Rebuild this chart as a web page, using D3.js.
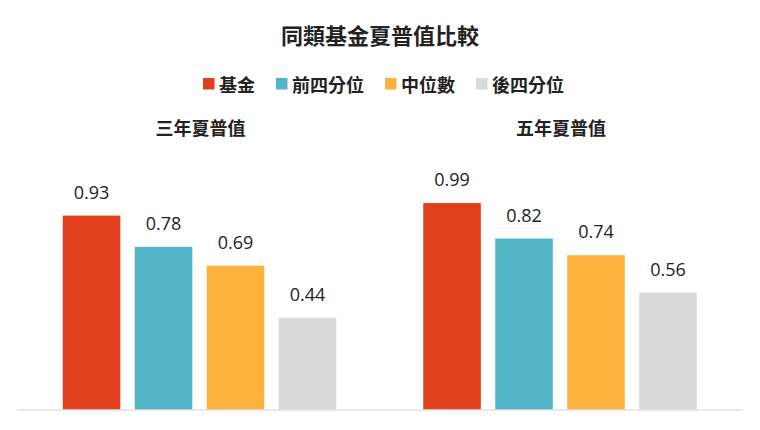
<!DOCTYPE html>
<html><head><meta charset="utf-8">
<script src="https://cdn.jsdelivr.net/npm/d3@7/dist/d3.min.js"></script>
<style>
html,body{margin:0;padding:0;background:#fff;}
svg{display:block;}
</style></head>
<body>
<svg id="chart" width="760" height="430"></svg>
<script>
const title = "同類基金夏普值比較";
const groups = ["三年夏普值", "五年夏普值"];
const series = ["基金", "前四分位", "中位數", "後四分位"];
const colors = ["#E0401C", "#52B5C6", "#FDB23E", "#D9D9D9"];
const values3y = [0.93, 0.78, 0.69, 0.44];
const values5y = [0.99, 0.82, 0.74, 0.56];
const groupValues = [values3y, values5y];

const cjk = "'Noto Sans CJK TC','Noto Sans CJK SC',sans-serif";
const num = "'Open Sans','Noto Sans',sans-serif";

const svg = d3.select("#chart");

const x0 = d3.scaleBand().domain(groups).range([19.25, 740.25]).padding(0);
const innerW = 273.5;
const x1 = d3.scaleBand().domain(series).range([0, innerW]).paddingInner(0.2).paddingOuter(0);
const y = d3.scaleLinear().domain([0, 1]).range([409.5, 201]);

// title
svg.append("text").attr("x", 380).attr("y", 34).attr("text-anchor", "middle")
  .attr("dominant-baseline", "central")
  .style("font-family", cjk).style("font-size", "22px").style("font-weight", "bold").style("fill", "#222")
  .text(title);

// legend
const lg = svg.append("g");
let cx = 0;
series.forEach((s, i) => {
  const g = lg.append("g");
  g.append("rect").attr("x", 0).attr("y", -5.5).attr("width", 11.5).attr("height", 11.5).attr("fill", colors[i]);
  const t = g.append("text").attr("x", 16).attr("y", 0).attr("dominant-baseline", "central")
    .style("font-family", cjk).style("font-size", "18px").style("font-weight", "bold").style("fill", "#222").text(s);
  const w = 16 + t.node().getComputedTextLength();
  g.attr("transform", `translate(${cx},83.5)`);
  cx += w + 21;
});
const totalW = cx - 21;
lg.attr("transform", `translate(${383.5 - totalW / 2},0)`);

// groups
groups.forEach((gname, gi) => {
  const center = x0(gname) + x0.bandwidth() / 2;
  const start = center - innerW / 2;
  const g = svg.append("g").attr("transform", `translate(${start},0)`);
  svg.append("text").attr("x", center + 1).attr("y", 126.5).attr("text-anchor", "middle")
    .attr("dominant-baseline", "central")
    .style("font-family", cjk).style("font-size", "18px").style("font-weight", "bold").style("fill", "#222")
    .text(gname);
  const vals = groupValues[gi];
  g.selectAll("rect").data(series).join("rect")
    .attr("x", d => x1(d)).attr("width", x1.bandwidth())
    .attr("y", (d, i) => y(vals[i])).attr("height", (d, i) => y(0) - y(vals[i]))
    .attr("fill", (d, i) => colors[i]);
  g.selectAll("text.v").data(series).join("text").attr("class", "v")
    .attr("x", d => x1(d) + x1.bandwidth() / 2)
    .attr("y", (d, i) => y(vals[i]) - 17)
    .attr("text-anchor", "middle")
    .style("font-family", num).style("font-size", "18px").style("fill", "#222")
    .text((d, i) => vals[i].toFixed(2));
});

// baseline
const [r0, r1] = x0.range();
svg.append("line").attr("x1", r0 - 2).attr("x2", r1 + 2)
  .attr("y1", y(0) + 0.5).attr("y2", y(0) + 0.5)
  .attr("stroke", "#D6D6D6").attr("stroke-width", 1.2);
</script>
</body></html>
